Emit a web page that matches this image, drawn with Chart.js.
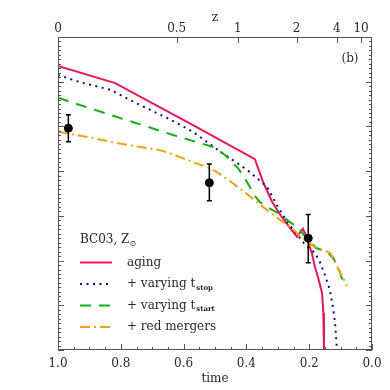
<!DOCTYPE html>
<html>
<head>
<meta charset="utf-8">
<script src="https://cdn.jsdelivr.net/npm/chart.js@4.4.0/dist/chart.umd.min.js"></script>
<style>
  html, body { margin: 0; padding: 0; background: #fff; }
  #wrap { width: 390px; height: 390px; }
</style>
</head>
<body>
<div id="wrap"><canvas id="c"></canvas></div>
<script>
/* =========================
   DATA (time fraction, value)
========================= */
const agingT = [1.000, 0.818, 0.570, 0.373, 0.347, 0.318, 0.287, 0.261, 0.239, 0.220, 0.210, 0.201, 0.191, 0.182, 0.172, 0.159, 0.155, 0.153, 0.151];
const agingV = [6.35, 5.97, 5.03, 4.27, 3.76, 3.31, 2.97, 2.73, 2.53, 2.71, 2.55, 2.37, 2.15, 1.86, 1.63, 1.27, 0.83, 0.00, -0.67];

const stopT = [1.000, 0.930, 0.834, 0.739, 0.653, 0.570, 0.490, 0.398, 0.334, 0.303, 0.268, 0.229, 0.217, 0.204, 0.182, 0.166, 0.150, 0.134, 0.124, 0.118, 0.113, 0.110];
const stopV = [6.15, 5.99, 5.82, 5.48, 5.19, 4.88, 4.47, 4.03, 3.65, 3.24, 2.84, 2.50, 2.39, 2.30, 2.17, 1.97, 1.68, 1.34, 0.94, 0.63, 0.16, -0.45];

const startT = [1.000, 0.812, 0.634, 0.506, 0.468, 0.427, 0.408, 0.389, 0.376, 0.357, 0.334, 0.299, 0.261, 0.236, 0.207, 0.178, 0.143, 0.124, 0.108, 0.096, 0.086];
const startV = [5.64, 5.21, 4.81, 4.54, 4.36, 4.07, 3.87, 3.65, 3.47, 3.31, 3.20, 3.06, 2.86, 2.73, 2.50, 2.28, 2.19, 2.06, 1.86, 1.61, 1.48];

const mergT = [1.000, 0.889, 0.812, 0.739, 0.675, 0.621, 0.570, 0.525, 0.494, 0.443, 0.398, 0.347, 0.293, 0.255, 0.229, 0.182, 0.156, 0.134, 0.121, 0.108, 0.092, 0.080];
const mergV = [4.88, 4.74, 4.63, 4.54, 4.47, 4.34, 4.20, 4.09, 3.98, 3.73, 3.49, 3.20, 2.91, 2.73, 2.55, 2.30, 2.24, 2.17, 2.04, 1.81, 1.61, 1.43];

// observed points with error bars
const obsT = [0.967, 0.518, 0.203];
const obsV = [4.96, 3.74, 2.50];
const obsLo = [4.66, 3.34, 1.95];
const obsHi = [5.26, 4.16, 3.03];

// top redshift axis: z label -> time position
const zLabels = ["0", "0.5", "1", "2", "4", "10"];
const zTimes = [1.0, 0.622, 0.427, 0.240, 0.112, 0.035];

const xTicks = [0, 0.2, 0.4, 0.6, 0.8, 1.0];

const SERIES = [
  { label: "aging", sub: "", t: agingT, v: agingV, color: "#e5165e", dash: [] },
  { label: "+ varying t", sub: "stop", t: stopT, v: stopV, color: "#0c0c8e", dash: [2, 4.5] },
  { label: "+ varying t", sub: "start", t: startT, v: startV, color: "#18ad18", dash: [11, 8] },
  { label: "+ red mergers", sub: "", t: mergT, v: mergV, color: "#f0a010", dash: [10, 4, 2, 4] },
];

const FONT = "DejaVu Serif";
const INK = "#2a2a2a";
const FRAME = "#555";

Chart.defaults.font.family = FONT;
Chart.defaults.font.size = 12;
Chart.defaults.color = INK;

/* =========================
   PLUGINS
========================= */
const frameTicks = {
  id: "frameTicks",
  afterDatasetsDraw(chart) {
    const { ctx, chartArea: a, scales: { x, y } } = chart;
    ctx.save();
    ctx.strokeStyle = FRAME;
    ctx.lineWidth = 1;
    ctx.strokeRect(a.left + 0.5, a.top + 0.5, a.right - a.left - 1, a.bottom - a.top - 1);
    ctx.beginPath();
    // left / right ticks
    for (let i = 0; i <= 70; i++) {
      const py = Math.round(y.getPixelForValue(i / 10)) + 0.5;
      const len = i % 10 === 0 ? 6 : 3;
      ctx.moveTo(a.left, py); ctx.lineTo(a.left + len, py);
      ctx.moveTo(a.right, py); ctx.lineTo(a.right - len, py);
    }
    // bottom ticks
    for (let i = 0; i <= 20; i++) {
      const px = Math.round(x.getPixelForValue(i * 0.05)) + 0.5;
      const len = i % 4 === 0 ? 6 : 3;
      ctx.moveTo(px, a.bottom); ctx.lineTo(px, a.bottom - len);
    }
    // top z ticks
    zTimes.forEach((t) => {
      const px = Math.round(x.getPixelForValue(t)) + 0.5;
      ctx.moveTo(px, a.top); ctx.lineTo(px, a.top + 6);
    });
    ctx.stroke();

    // error bars
    ctx.strokeStyle = "#000";
    ctx.lineWidth = 1.5;
    ctx.beginPath();
    obsT.forEach((t, i) => {
      const px = x.getPixelForValue(t);
      const p1 = y.getPixelForValue(obsLo[i]);
      const p2 = y.getPixelForValue(obsHi[i]);
      ctx.moveTo(px, p1); ctx.lineTo(px, p2);
      ctx.moveTo(px - 2.5, p1); ctx.lineTo(px + 2.5, p1);
      ctx.moveTo(px - 2.5, p2); ctx.lineTo(px + 2.5, p2);
    });
    ctx.stroke();

    // panel tag
    ctx.fillStyle = INK;
    ctx.font = `12px ${FONT}`;
    ctx.textAlign = "center";
    ctx.textBaseline = "middle";
    ctx.fillText("(b)", 350, 59);

    // legend
    ctx.textAlign = "left";
    ctx.fillText("BC03, Z", 80, 240);
    const zw = ctx.measureText("BC03, Z").width;
    ctx.font = `8px ${FONT}`;
    ctx.fillText("\u2299", 80 + zw, 244);

    SERIES.forEach((s, i) => {
      const ly = 262.5 + i * 21.5;
      ctx.strokeStyle = s.color;
      ctx.lineWidth = 2;
      ctx.setLineDash(s.dash);
      ctx.beginPath();
      ctx.moveTo(80, ly); ctx.lineTo(112, ly);
      ctx.stroke();
      ctx.setLineDash([]);
      ctx.font = `12px ${FONT}`;
      ctx.fillStyle = INK;
      ctx.fillText(s.label, 127, ly);
      if (s.sub) {
        const w = ctx.measureText(s.label).width;
        ctx.font = `bold 7px ${FONT}`;
        ctx.fillText(s.sub, 127 + w + 1, ly + 4);
      }
    });
    ctx.restore();
  },
};

/* =========================
   CHART
========================= */
const datasets = SERIES.map((s, i) => ({
  label: s.label + s.sub,
  data: s.t.map((t, k) => ({ x: t, y: s.v[k] })),
  borderColor: s.color,
  borderWidth: 2,
  borderDash: s.dash,
  pointRadius: 0,
  tension: 0,
  fill: false,
  order: 4 - i,
}));

datasets.push({
  label: "data",
  data: obsT.map((t, k) => ({ x: t, y: obsV[k] })),
  showLine: false,
  pointRadius: 4,
  pointBackgroundColor: "#000",
  pointBorderColor: "#000",
  order: 0,
});

new Chart(document.getElementById("c"), {
  type: "line",
  data: { datasets },
  options: {
    responsive: true,
    maintainAspectRatio: false,
    animation: false,
    layout: { padding: { left: 58, right: 18, top: 0, bottom: 0 } },
    plugins: { legend: { display: false }, tooltip: { enabled: false } },
    scales: {
      x: {
        type: "linear",
        position: "bottom",
        min: 0,
        max: 1,
        reverse: true,
        afterBuildTicks: (s) => { s.ticks = xTicks.map((v) => ({ value: v })); },
        afterFit: (s) => { s.height = 40; },
        ticks: {
          padding: 7,
          maxRotation: 0,
          autoSkip: false,
          callback: (v) => Number(v).toFixed(1),
        },
        grid: { display: false, drawTicks: false },
        border: { display: false },
        title: { display: true, text: "time", padding: { top: 0, bottom: 4 } },
      },
      x2: {
        type: "linear",
        position: "top",
        min: 0,
        max: 1,
        reverse: true,
        afterBuildTicks: (s) => { s.ticks = zTimes.map((v) => ({ value: v })); },
        afterFit: (s) => { s.height = 37; },
        ticks: {
          padding: 1,
          maxRotation: 0,
          autoSkip: false,
          callback: (v, i) => zLabels[i],
        },
        grid: { display: false, drawTicks: false },
        border: { display: false },
        title: { display: true, text: "z", padding: { top: 11, bottom: 0 } },
      },
      y: {
        display: false,
        min: 0,
        max: 7,
      },
    },
  },
  plugins: [frameTicks],
});
</script>
</body>
</html>
